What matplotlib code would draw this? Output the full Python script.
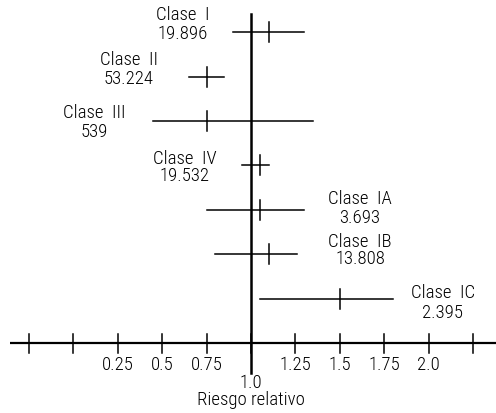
import matplotlib
matplotlib.use("Agg")
import matplotlib.pyplot as plt

# Forest plot of relative risk by class
classes = ["Clase  I", "Clase  II", "Clase  III", "Clase  IV", "Clase  IA", "Clase  IB", "Clase  IC"]
counts = ["19.896", "53.224", "539", "19.532", "3.693", "13.808", "2.395"]
rr = [1.10, 0.75, 0.75, 1.05, 1.05, 1.10, 1.50]
ci_low = [0.90, 0.65, 0.45, 0.95, 0.75, 0.80, 1.05]
ci_high = [1.30, 0.85, 1.35, 1.10, 1.30, 1.26, 1.80]
tick_values = [-0.25, 0.0, 0.25, 0.5, 0.75, 1.0, 1.25, 1.5, 1.75, 2.0, 2.25]
tick_labels = ["", "", "0.25", "0.5", "0.75", "1.0", "1.25", "1.5", "1.75", "2.0", ""]
xlabel = "Riesgo relativo"

# label anchor (x center, y of first line, y of second line)
label_x = [0.617, 0.313, 0.116, 0.628, 1.614, 1.614, 2.081]
label_y1 = [7.41, 6.40, 5.20, 4.17, 3.27, 2.30, 1.15]
label_y2 = [6.98, 5.97, 4.77, 3.78, 2.84, 1.91, 0.70]

plt.rcParams["font.family"] = ["Roboto Condensed", "DejaVu Sans"]
plt.rcParams["font.weight"] = "light"
FS = 13.5

fig = plt.figure(figsize=(4.96, 4.14), dpi=100)
ax = fig.add_axes([0, 0, 1, 1])
ax.set_xlim(-0.4133, 2.3795)
ax.set_ylim(-1.577, 7.748)
ax.axis("off")

n = len(classes)
rows = list(range(n, 0, -1))

# axis line and ticks
ax.plot([-0.357, 2.3795], [0, 0], color="black", lw=1.6, solid_capstyle="butt")
for t in tick_values:
    ax.plot([t, t], [-0.225, 0.2], color="black", lw=1.1)
for t, lab in zip(tick_values, tick_labels):
    if not lab:
        continue
    y = -0.87 if t == 1.0 else -0.47
    ax.text(t, y, lab, ha="center", va="center", fontsize=FS)
ax.text(1.0, -1.26, xlabel, ha="center", va="center", fontsize=FS)

# reference line at 1
ax.plot([1.0, 1.0], [-0.68, 7.41], color="black", lw=1.8)

# confidence intervals and point estimates
for i, r in enumerate(rows):
    ax.plot([ci_low[i], ci_high[i]], [r, r], color="black", lw=1.1)
    ax.plot([rr[i], rr[i]], [r - 0.225, r + 0.225], color="black", lw=1.1)
    ax.text(label_x[i], label_y1[i], classes[i], ha="center", va="center", fontsize=FS)
    ax.text(label_x[i], label_y2[i], counts[i], ha="center", va="center", fontsize=FS)

fig.savefig("out.png", dpi=100)
